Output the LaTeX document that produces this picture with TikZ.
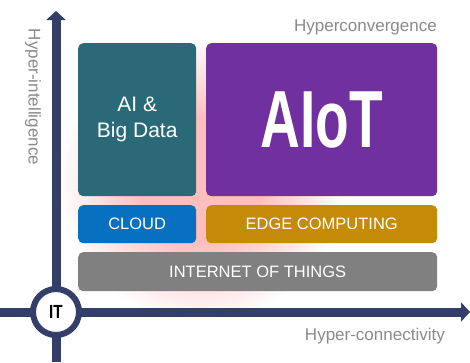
\documentclass[tikz,border=0pt]{standalone}
\usepackage{fontspec}
\setmainfont{Liberation Sans}
\usetikzlibrary{arrows.meta}
\definecolor{axisblue}{HTML}{333F69}
\definecolor{aiteal}{HTML}{2A6A78}
\definecolor{aiotpurple}{HTML}{7030A0}
\definecolor{cloudblue}{HTML}{0870C0}
\definecolor{edgegold}{HTML}{C48A08}
\definecolor{iotgray}{HTML}{808080}
\definecolor{labelgray}{HTML}{8A8A8A}
\definecolor{glowpink}{HTML}{FFBDBD}
\pgfdeclareradialshading{pinkglow}{\pgfpoint{0bp}{0bp}}{color(0bp)=(glowpink); color(9bp)=(glowpink); color(21bp)=(white); color(50bp)=(white)}
\begin{document}
\begin{tikzpicture}[x=1pt,y=-1pt,
  box/.style={rounded corners=5pt, inner sep=0pt, text=white, anchor=north west, align=center},
  barlabel/.style={font=\fontsize{16.5}{19}\selectfont},
  axislabel/.style={text=labelgray, inner sep=0pt, font=\fontsize{17}{20}\selectfont},
  axisline/.style={draw=axisblue, line width=9pt, -{Triangle[width=19pt,length=9pt]}}]
\useasboundingbox (0,0) rectangle (470,362);
\shade[shading=pinkglow] (201,180) circle (170);
\node[box, fill=aiteal, minimum width=118pt, minimum height=153pt, font=\fontsize{21}{26}\selectfont] (ai) at (78,43) {AI \&\\Big Data};
\node[box, fill=aiotpurple, minimum width=231pt, minimum height=153pt, font=\fontsize{81}{81}\selectfont\bfseries] (aiot) at (206,43) {\scalebox{0.68}[1]{AIoT}};
\node[box, barlabel, fill=cloudblue, minimum width=118pt, minimum height=38pt] (cloud) at (78,205) {CLOUD};
\node[box, barlabel, fill=edgegold, minimum width=231pt, minimum height=38pt] (edge) at (206,205) {EDGE COMPUTING};
\node[box, barlabel, fill=iotgray, minimum width=359pt, minimum height=39pt] (iot) at (78,252) {INTERNET OF THINGS};
\node[axislabel, anchor=base east] (hconv) at (437,31.5) {Hyperconvergence};
\node[axislabel, anchor=base east] (hconn) at (445,340) {Hyper-connectivity};
\node[axislabel, rotate=-90] (hint) at (33,97) {Hyper-intelligence};
\coordinate (vbot) at (56,362);
\coordinate (vtop) at (56,11);
\coordinate (hleft) at (0,312);
\coordinate (hright) at (470,312);
\draw[axisline] (vbot) -- (vtop);
\draw[axisline] (hleft) -- (hright);
\node[circle, draw=axisblue, line width=6pt, fill=white, minimum size=46pt, inner sep=0pt, font=\fontsize{19}{19}\selectfont\bfseries] (it) at (56,312) {\scalebox{0.8}[1]{IT}};
\end{tikzpicture}
\end{document}
